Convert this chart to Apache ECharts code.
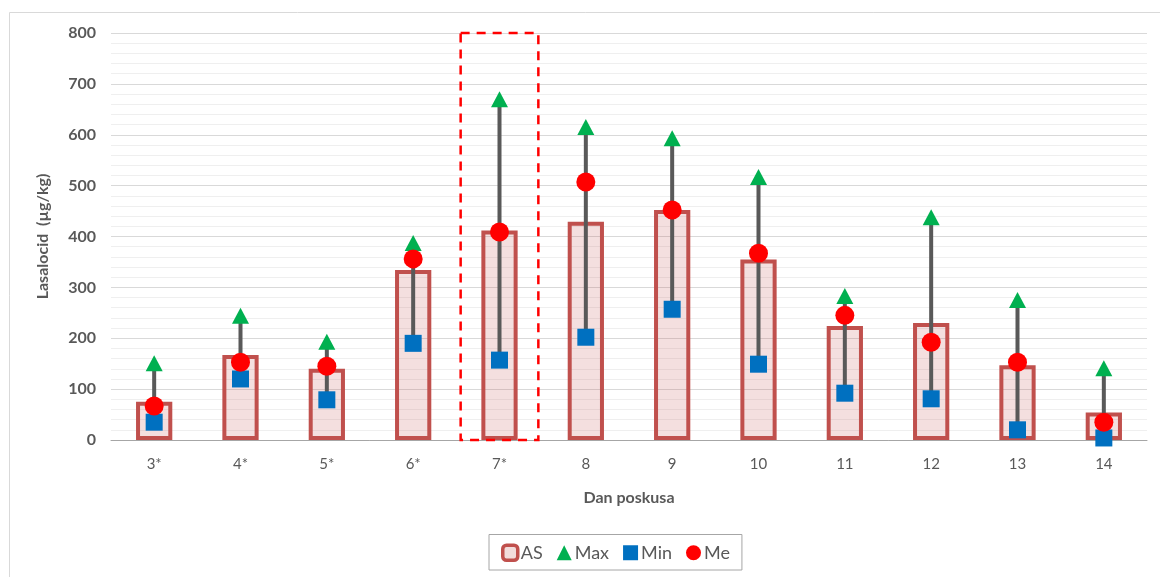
<!DOCTYPE html>
<html>
<head>
<meta charset="utf-8">
<script src="https://cdn.jsdelivr.net/npm/echarts@6/dist/echarts.min.js"></script>
<style>
html,body{margin:0;padding:0;background:#fff;}
#chart{width:1160px;height:577px;}
</style>
</head>
<body>
<div id="chart"></div>
<script>
const categories = ['3*','4*','5*','6*','7*','8','9','10','11','12','13','14'];
const asValues  = [75, 167, 140, 334, 412, 429, 452, 355, 224, 230, 147, 54];
const maxValues = [151, 244, 193, 387, 670, 615, 593, 517, 283, 438, 275, 141];
const minValues = [35, 120, 79, 190, 157, 202, 257, 149, 92, 81, 20, 4];
const meValues  = [67, 153, 145, 356, 409, 507, 452, 367, 245, 192, 153, 35];
const highlightCategory = '7*';
const yTicks = [0, 100, 200, 300, 400, 500, 600, 700, 800];

const FONT = 'Lato, "Open Sans", sans-serif';
const chart = echarts.init(document.getElementById('chart'), null, {renderer:'canvas'});

const rangeData = categories.map((c, i) => [i, minValues[i], maxValues[i]]);

chart.setOption({
  animation: false,
  backgroundColor: '#fff',
  graphic: [{
    type: 'rect', left: 7, top: 10, z: -10,
    shape: {x: 0, y: 0, width: 1200, height: 620},
    style: {fill: 'none', stroke: '#d9d9d9', lineWidth: 1}
  }],
  grid: {left: 111, right: 13, top: 33, bottom: 137, containLabel: false},
  legend: {
    bottom: 7, left: 489,
    data: [
      {name: 'AS', itemStyle: {color: '#f2dcdb', borderColor: '#c0504d', borderWidth: 3.5}},
      'Max', 'Min', 'Me'
    ],
    itemWidth: 15, itemHeight: 15, itemGap: 14,
    borderColor: '#a6a6a6', borderWidth: 1,
    padding: [9, 12, 8, 12],
    textStyle: {fontFamily: FONT, fontSize: 18, color: '#595959', padding: [0, 0, 0, -2]}
  },
  xAxis: {
    type: 'category', data: categories,
    axisLine: {lineStyle: {color: '#a6a6a6', width: 1}},
    axisTick: {show: false},
    axisLabel: {fontFamily: FONT, fontSize: 15, color: '#595959', margin: 17},
    name: 'Dan poskusa', nameLocation: 'middle', nameGap: 50,
    nameTextStyle: {fontFamily: FONT, fontSize: 16, fontWeight: 'bold', color: '#595959'}
  },
  yAxis: {
    type: 'value', min: yTicks[0], max: yTicks[yTicks.length - 1], interval: 100,
    axisLine: {show: false}, axisTick: {show: false},
    axisLabel: {fontFamily: FONT, fontSize: 16, fontWeight: 'bold', color: '#595959', margin: 15},
    splitLine: {lineStyle: {color: '#d9d9d9', width: 1}},
    minorTick: {show: false, splitNumber: 5},
    minorSplitLine: {show: true, lineStyle: {color: '#efefef', width: 1}},
    name: 'Lasalocid  (µg/kg)', nameLocation: 'middle', nameGap: 60, nameRotate: 90,
    nameTextStyle: {fontFamily: FONT, fontSize: 16, fontWeight: 'bold', color: '#595959'}
  },
  series: [
    {
      name: 'AS', type: 'bar', data: asValues, barWidth: '42%',
      itemStyle: {color: 'rgba(192,80,77,0.18)', borderColor: '#c0504d', borderWidth: 4},
      z: 2
    },
    {
      name: 'range', type: 'custom', data: rangeData, z: 3,
      renderItem: function (params, api) {
        const lo = api.coord([api.value(0), api.value(1)]);
        const hi = api.coord([api.value(0), api.value(2)]);
        return {type: 'line', shape: {x1: lo[0], y1: lo[1], x2: hi[0], y2: hi[1]},
                style: {stroke: '#595959', lineWidth: 4}};
      },
      silent: true
    },
    {
      name: 'highlight', type: 'custom', z: 4, silent: true,
      data: [[categories.indexOf(highlightCategory), yTicks[0], yTicks[yTicks.length - 1]]],
      renderItem: function (params, api) {
        const bottom = api.coord([api.value(0), api.value(1)]);
        const top = api.coord([api.value(0), api.value(2)]);
        const w = api.size([1, 0])[0] * 0.9;
        return {type: 'rect', shape: {x: bottom[0] - w / 2, y: top[1], width: w, height: bottom[1] - top[1]},
                style: {fill: 'none', stroke: '#ff0000', lineWidth: 2.5, lineDash: [9, 7]}};
      }
    },
    {
      name: 'Min', type: 'scatter', data: minValues, symbol: 'rect', symbolSize: 17,
      itemStyle: {color: '#0070c0', opacity: 1}, z: 5
    },
    {
      name: 'Max', type: 'scatter', data: maxValues, symbol: 'triangle', symbolSize: [17, 16],
      itemStyle: {color: '#00b050', opacity: 1}, z: 5
    },
    {
      name: 'Me', type: 'scatter', data: meValues, symbol: 'circle', symbolSize: 19,
      itemStyle: {color: '#ff0000', opacity: 1}, z: 6
    }
  ]
});
</script>
</body>
</html>
